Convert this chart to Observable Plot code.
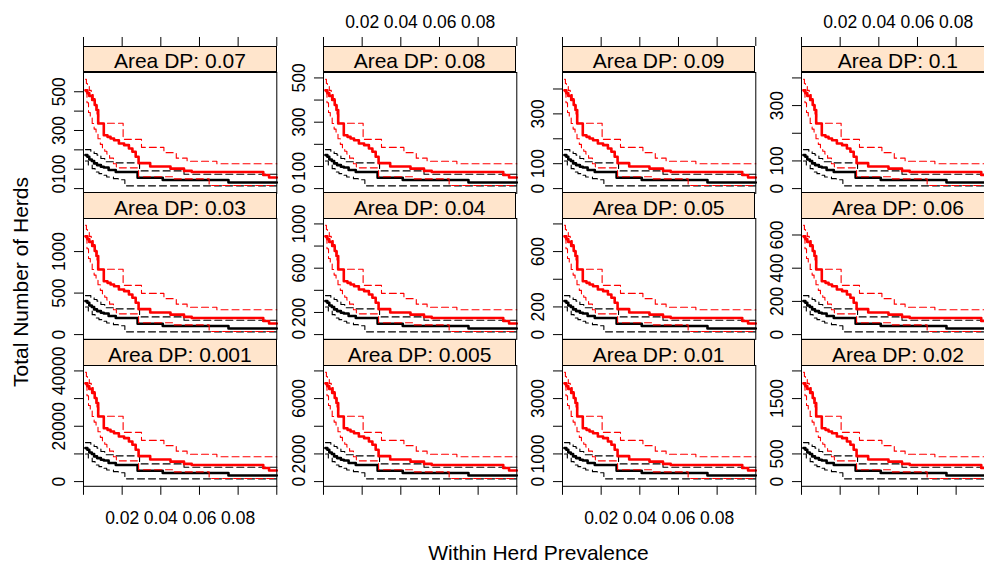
<!DOCTYPE html>
<html>
<head>
<meta charset="utf-8">
<script src="https://cdn.jsdelivr.net/npm/d3@7"></script>
<script src="https://cdn.jsdelivr.net/npm/@observablehq/plot@0.6"></script>
<style>
  body { margin: 0; background: #fff; }
  #chart { position: relative; width: 984px; height: 562px; overflow: hidden; background: #fff;
           font-family: "Liberation Sans", Arial, Helvetica, sans-serif; color: #000; }
  .panel { position: absolute; }
  .panel svg { background: transparent !important; overflow: visible !important; max-width: none !important;
               font-family: "Liberation Sans", Arial, Helvetica, sans-serif !important; }
  .strip { position: absolute; box-sizing: border-box; border: 1px solid #000; background: #ffe5cc; }
  .strip span { position: absolute; left: 0; right: 0; text-align: center; font-size: 21px;
                line-height: 21px; white-space: nowrap; }
  .title { position: absolute; font-size: 21px; white-space: nowrap; line-height: 1; }
</style>
</head>
<body>
<div id="chart"></div>
<script>
// ---------- data ----------
// panels in lattice order (top row first)
const areaDP    = [0.07, 0.08, 0.09, 0.1, 0.03, 0.04, 0.05, 0.06, 0.001, 0.005, 0.01, 0.02];
const panelRow  = [0, 0, 0, 0, 1, 1, 1, 1, 2, 2, 2, 2];
const panelCol  = [0, 1, 2, 3, 0, 1, 2, 3, 0, 1, 2, 3];
const yTicks = [
  [0, 100, 200, 300, 400, 500], [0, 100, 200, 300, 400, 500], [0, 100, 200, 300, 400], [0, 100, 200, 300, 400],
  [0, 500, 1000], [0, 200, 400, 600, 800, 1000], [0, 200, 400, 600, 800], [0, 200, 400, 600],
  [0, 10000, 20000, 30000, 40000], [0, 2000, 4000, 6000, 8000], [0, 1000, 2000, 3000, 4000], [0, 500, 1000, 1500, 2000]
];
const yTickLabels = [
  [0, 100, 300, 500], [0, 100, 300, 500], [0, 100, 300], [0, 100, 300],
  [0, 500, 1000], [0, 200, 600, 1000], [0, 200, 600], [0, 200, 400, 600],
  [0, 20000, 40000], [0, 2000, 6000], [0, 1000, 3000], [0, 500, 1500]
];
const xTicks = [0, 0.02, 0.04, 0.06, 0.08, 0.1];
const xTickLabels = [0.02, 0.04, 0.06, 0.08];

// curves as read from the "Area DP: 0.001" panel (number of herds);
// every panel shows the same curves, the herd counts scale with 0.001 / Area DP
const redMidX = [0.001, 0.002, 0.003, 0.0045, 0.0058, 0.0067, 0.0076, 0.0105, 0.0124, 0.014, 0.0158, 0.0183, 0.021, 0.0235, 0.0253, 0.027, 0.0285, 0.0345, 0.045, 0.052, 0.056, 0.093, 0.096, 0.1];
const redMidY = [35500, 34500, 33500, 32000, 30200, 28400, 23500, 19300, 18700, 18100, 17500, 16300, 15700, 14500, 13300, 11500, 9200, 8000, 7200, 6400, 6000, 4900, 4000, 4000];
const redHiX  = [0.001, 0.0015, 0.002, 0.003, 0.004, 0.005, 0.006, 0.007, 0.0078, 0.0205, 0.030, 0.0416, 0.048, 0.0536, 0.069, 0.1];
const redHiY  = [39500, 38000, 37000, 35500, 34000, 32500, 30000, 27000, 23600, 17800, 14900, 13000, 11000, 9900, 9000, 9000];
const redLoX  = [0.001, 0.0018, 0.0026, 0.0035, 0.0045, 0.0055, 0.0065, 0.0075, 0.0087, 0.0098, 0.011, 0.0121, 0.0135, 0.0155, 0.017, 0.0285, 0.047, 0.065, 0.1];
const redLoY  = [35000, 31000, 27500, 25500, 23500, 21500, 20000, 18000, 16000, 14500, 13500, 12500, 11000, 9000, 7500, 4300, 3500, 1100, 1100];
const blackMidX = [0.001, 0.002, 0.003, 0.0043, 0.0055, 0.007, 0.009, 0.0105, 0.013, 0.0167, 0.028, 0.041, 0.075, 0.1];
const blackMidY = [12100, 11500, 10500, 10000, 9100, 8500, 7900, 7600, 6700, 6000, 3900, 3100, 2200, 2200];
const blackHiX  = [0.001, 0.0038, 0.0055, 0.007, 0.009, 0.011, 0.0165, 0.029, 0.052, 0.1];
const blackHiY  = [14100, 13300, 12700, 12100, 10900, 9700, 9300, 6400, 5200, 5200];
const blackLoX  = [0.001, 0.0025, 0.0045, 0.006, 0.008, 0.0095, 0.012, 0.0155, 0.018, 0.0214, 0.1];
const blackLoY  = [10000, 8500, 7200, 6000, 5400, 4800, 4200, 3600, 3200, 1000, 1000];
const baseYDomain = [-1700, 41960];   // y limits of the 0.001 panel

// ---------- layout ----------
const colX = [83, 322.7, 561.7, 801];
const rowTop = [45.5, 192.3, 339.1];
const W = 193.3, stripH = 26, plotH = 120.8;
const ML = 50, MR = 2, MT = 70, MB = 45;

const toRows = (xs, ys) => xs.map((x, i) => ({x, y: ys[i]}));
const series = [
  {data: toRows(blackLoX, blackLoY), stroke: "#000000", w: 1.1, dash: "7,4"},
  {data: toRows(blackHiX, blackHiY), stroke: "#000000", w: 1.1, dash: "7,4"},
  {data: toRows(blackMidX, blackMidY), stroke: "#000000", w: 2.6, dash: null},
  {data: toRows(redLoX, redLoY), stroke: "#ff0000", w: 1.1, dash: "7,4"},
  {data: toRows(redHiX, redHiY), stroke: "#ff0000", w: 1.1, dash: "7,4"},
  {data: toRows(redMidX, redMidY), stroke: "#ff0000", w: 2.6, dash: null}
];

const chart = document.getElementById("chart");
const font = "Liberation Sans, Arial, Helvetica, sans-serif";

areaDP.forEach((dp, p) => {
  const r = panelRow[p], c = panelCol[p];
  const k = 0.001 / dp;
  const plotTop = rowTop[r] + stripH;
  const marks = [];
  for (const s of series) {
    marks.push(Plot.line(s.data, {
      x: "x", y: d => d.y * k, curve: "step-after",
      stroke: s.stroke, strokeWidth: s.w, strokeDasharray: s.dash
    }));
  }
  marks.push(Plot.frame({stroke: "black", strokeWidth: 1}));
  marks.push(Plot.ruleY(yTicks[p], {y: d => d, insetLeft: -9, insetRight: W, stroke: "black"}));
  marks.push(Plot.text(yTickLabels[p], {
    y: d => d, text: d => String(d), frameAnchor: "left", dx: -24, rotate: -90,
    textAnchor: "middle", lineAnchor: "middle",
    fontSize: 17.5, fill: "black", fontFamily: font
  }));
  if (r === 0) {
    marks.push(Plot.ruleX(xTicks, {x: d => d, insetTop: -(stripH + 9), insetBottom: plotH + stripH, stroke: "black"}));
    if (c === 1 || c === 3) {
      marks.push(Plot.text(xTickLabels, {
        x: d => d, text: d => d.toFixed(2), frameAnchor: "top", dy: -(plotTop - 21),
        textAnchor: "middle", lineAnchor: "middle",
        fontSize: 17.5, fill: "black", fontFamily: font
      }));
    }
  }
  if (r === 2) {
    marks.push(Plot.ruleX(xTicks, {x: d => d, insetTop: plotH, insetBottom: -9, stroke: "black"}));
    if (c === 0 || c === 2) {
      marks.push(Plot.text(xTickLabels, {
        x: d => d, text: d => d.toFixed(2), frameAnchor: "bottom", dy: 32,
        textAnchor: "middle", lineAnchor: "middle",
        fontSize: 17.5, fill: "black", fontFamily: font
      }));
    }
  }
  const pw = ML + W + MR, ph = MT + plotH + MB;
  const svg = Plot.plot({
    width: pw, height: ph,
    marginLeft: ML, marginRight: MR, marginTop: MT, marginBottom: MB,
    x: {domain: [0, 0.1], axis: null},
    y: {domain: baseYDomain.map(v => v * k), axis: null},
    style: {background: "transparent", overflow: "visible", fontFamily: font, maxWidth: "none"},
    marks
  });
  const holder = document.createElement("div");
  holder.className = "panel";
  holder.style.left = (colX[c] - ML) + "px";
  holder.style.top = (plotTop - MT) + "px";
  holder.style.width = pw + "px";
  holder.style.height = ph + "px";
  holder.appendChild(svg);
  chart.appendChild(holder);

  const strip = document.createElement("div");
  strip.className = "strip";
  strip.style.left = colX[c] + "px";
  strip.style.top = rowTop[r] + "px";
  strip.style.width = (W + 0.5) + "px";
  strip.style.height = (stripH + 0.5) + "px";
  const span = document.createElement("span");
  span.style.top = "3.8px";
  span.textContent = "Area DP: " + dp;
  strip.appendChild(span);
  chart.appendChild(strip);
});

const yTitle = document.createElement("div");
yTitle.className = "title";
yTitle.textContent = "Total Number of Herds";
yTitle.style.left = "20px";
yTitle.style.top = "282px";
yTitle.style.transform = "translate(-50%, -50%) rotate(-90deg)";
chart.appendChild(yTitle);

const xTitle = document.createElement("div");
xTitle.className = "title";
xTitle.textContent = "Within Herd Prevalence";
xTitle.style.left = "538.5px";
xTitle.style.top = "552px";
xTitle.style.transform = "translate(-50%, -50%)";
chart.appendChild(xTitle);
</script>
</body>
</html>
